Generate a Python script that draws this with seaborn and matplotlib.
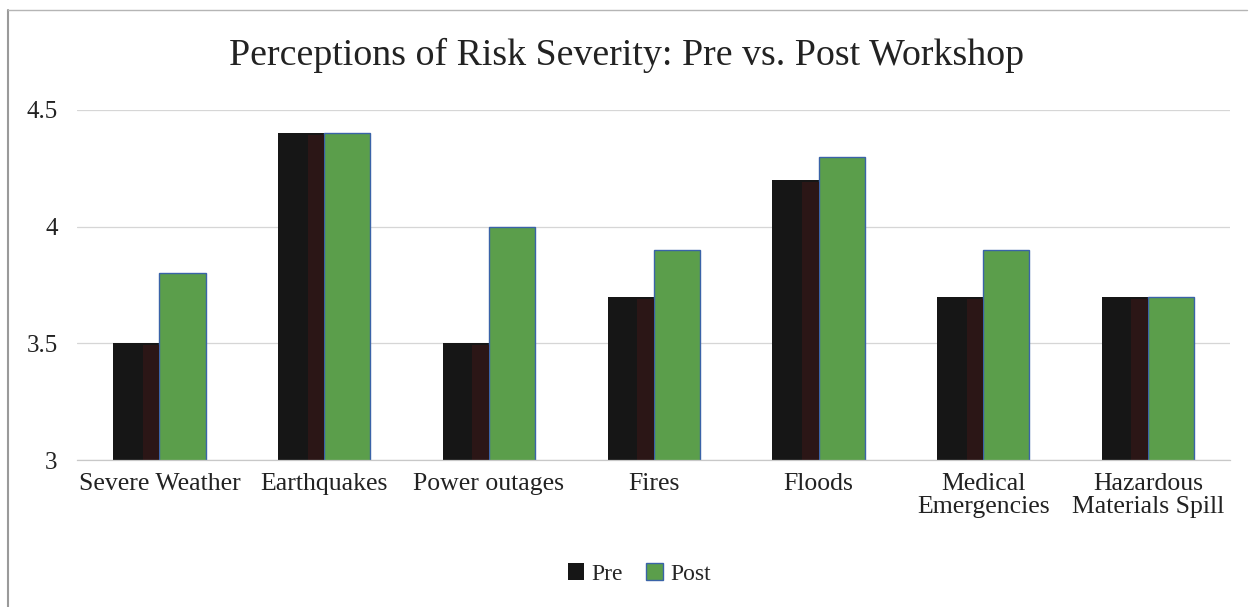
import matplotlib
matplotlib.use("Agg")
import matplotlib.pyplot as plt
from matplotlib.lines import Line2D
from matplotlib.patches import Rectangle, Patch
import seaborn as sns
import pandas as pd

# Mean perceived severity of each risk, before and after the workshop
categories = ["Severe Weather", "Earthquakes", "Power outages", "Fires",
              "Floods", "Medical\nEmergencies", "Hazardous\nMaterials Spill"]
pre_scores = [3.5, 4.4, 3.5, 3.7, 4.2, 3.7, 3.7]
post_scores = [3.8, 4.4, 4.0, 3.9, 4.3, 3.9, 3.7]
series_names = ["Pre", "Post"]
y_ticks = [3, 3.5, 4, 4.5]
y_tick_labels = ["3", "3.5", "4", "4.5"]

df = pd.DataFrame({
    "Risk": categories * 2,
    "Score": pre_scores + post_scores,
    "Period": [series_names[0]] * len(categories) + [series_names[1]] * len(categories),
})

sns.set_theme(style="white")
plt.rcParams["font.family"] = ["Liberation Serif", "DejaVu Serif"]

pre_color = "#161616"
pre_side = "#2b1616"
post_color = "#5b9e4b"
post_edge = "#3a63a8"

fig = plt.figure(figsize=(12.53, 6.07), dpi=100)
fig.patch.set_facecolor("white")
ax = fig.add_axes([0.0615, 0.242, 0.9205, 0.5768])

sns.barplot(data=df, x="Risk", y="Score", hue="Period", order=categories,
            hue_order=series_names, palette=[pre_color, post_color],
            width=0.56, gap=0, saturation=1, errorbar=None, legend=False, ax=ax)

# Pre bars get a darker side face; Post bars a thin blue outline
n = len(categories)
for i, bar in enumerate(ax.patches[:2 * n]):
    if i < n:
        bar.set_edgecolor("none")
        x0, w = bar.get_x(), bar.get_width()
        h = bar.get_height()
        side = Rectangle((x0 + w * 0.64, 3), w * 0.36, h - 3 - 0.008,
                         facecolor=pre_side, edgecolor="none", zorder=bar.get_zorder() + 0.1)
        ax.add_patch(side)
    else:
        bar.set_edgecolor(post_edge)
        bar.set_linewidth(1.0)

ax.set_ylim(3, 4.5)
ax.set_xlim(-0.5, n - 0.5)
ax.set_yticks(y_ticks)
ax.set_yticklabels(y_tick_labels)
ax.set_xlabel("")
ax.set_ylabel("")
ax.grid(axis="y", color="#d6d6d6", linewidth=0.9)
ax.set_axisbelow(True)
for s in ["top", "right", "left"]:
    ax.spines[s].set_visible(False)
ax.spines["bottom"].set_color("#c8c8c8")
ax.spines["bottom"].set_linewidth(0.9)
ax.tick_params(axis="x", length=0, pad=9, labelsize=18.5, colors="#222222")
ax.tick_params(axis="y", length=0, pad=14, labelsize=18, colors="#222222")
for lab in ax.get_xticklabels():
    lab.set_linespacing(1.1)

fig.text(0.5, 0.908, "Perceptions of Risk Severity: Pre vs. Post Workshop",
         ha="center", va="center", fontsize=27.3, color="#222222")

handles = [Patch(facecolor=pre_color, edgecolor="none"),
           Patch(facecolor=post_color, edgecolor=post_edge, linewidth=1.0)]
fig.legend(handles, series_names, loc="center", bbox_to_anchor=(0.51, 0.054),
           ncol=2, frameon=False, fontsize=17, handlelength=0.7, handleheight=0.7,
           handletextpad=0.3, columnspacing=1.0)

# chart frame
fig.add_artist(Line2D([0.0064, 0.0064], [0.0, 0.984], color="#9a9a9a", linewidth=1.5))
fig.add_artist(Line2D([0.0064, 0.995], [0.984, 0.984], color="#b5b5b5", linewidth=1.0))

fig.savefig("out.png", dpi=100, facecolor="white")
